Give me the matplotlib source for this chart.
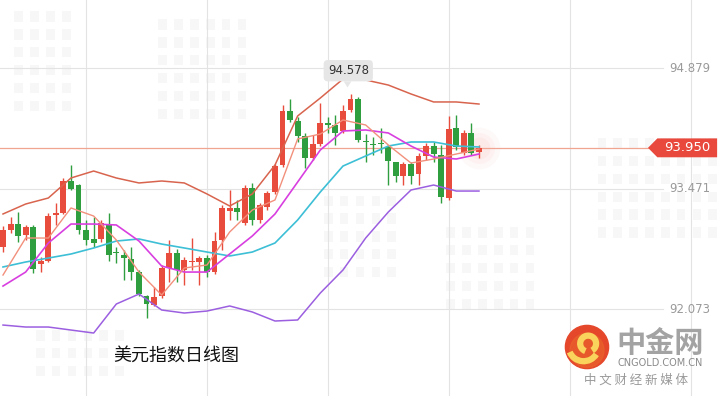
import numpy as np
import matplotlib.pyplot as plt
from matplotlib.patches import Circle, Polygon, Arc, Rectangle

plt.rcParams['font.family'] = ['Noto Sans CJK SC', 'DejaVu Sans']

# daily OHLC (64 sessions)
opens = [92.80, 92.99, 93.06, 92.93, 93.03, 92.60, 92.63, 93.17, 93.19, 93.56,
         93.52, 92.99, 92.89, 92.89, 93.06, 92.74, 92.70, 92.66, 92.50, 92.22,
         92.12, 92.23, 92.55, 92.73, 92.53, 92.62, 92.62, 92.67, 92.50, 92.88,
         93.22, 93.25, 93.07, 93.48, 93.11, 93.26, 93.44, 93.75, 94.38, 94.26,
         94.09, 93.83, 93.99, 94.24, 94.22, 94.15, 94.39, 94.52, 94.03, 93.99,
         94.00, 93.96, 93.79, 93.62, 93.76, 93.65, 93.85, 93.97, 93.87, 93.37,
         94.18, 93.89, 94.12, 93.90]
closes = [92.99, 93.06, 92.92, 93.03, 92.54, 92.63, 93.16, 93.19, 93.56, 93.47,
          92.99, 92.88, 92.84, 93.07, 92.70, 92.72, 92.67, 92.50, 92.25, 92.13,
          92.21, 92.55, 92.73, 92.53, 92.64, 92.63, 92.67, 92.50, 92.87, 93.25,
          93.25, 93.20, 93.48, 93.11, 93.28, 93.42, 93.74, 94.38, 94.27, 94.09,
          93.83, 93.99, 94.24, 94.22, 94.12, 94.38, 94.52, 94.04, 94.02, 93.98,
          93.99, 93.80, 93.62, 93.76, 93.62, 93.86, 93.97, 93.88, 93.38, 94.17,
          93.96, 94.12, 93.89, 93.95]
highs = [93.04, 93.15, 93.20, 93.05, 93.05, 92.68, 93.19, 93.31, 93.60, 93.75,
         93.53, 93.11, 93.15, 93.11, 93.19, 92.80, 92.76, 92.80, 92.53, 92.24,
         92.33, 92.59, 92.88, 92.77, 92.68, 92.90, 92.69, 92.70, 92.97, 93.28,
         93.46, 93.34, 93.52, 93.54, 93.31, 93.45, 93.76, 94.45, 94.52, 94.31,
         94.12, 94.10, 94.47, 94.31, 94.33, 94.45, 94.578, 94.54, 94.11, 94.08,
         94.18, 93.98, 93.79, 93.79, 93.79, 93.89, 94.01, 94.02, 93.98, 94.32,
         94.33, 94.16, 94.24, 93.98]
lows = [92.74, 92.96, 92.85, 92.88, 92.49, 92.50, 92.62, 93.05, 93.18, 93.46,
        92.95, 92.82, 92.80, 92.85, 92.63, 92.61, 92.41, 92.41, 92.22, 91.97,
        92.11, 92.20, 92.39, 92.39, 92.35, 92.53, 92.35, 92.45, 92.48, 92.76,
        93.11, 93.11, 93.05, 93.05, 93.08, 93.23, 93.41, 93.73, 94.25, 94.02,
        93.72, 93.81, 93.97, 94.12, 93.98, 94.12, 94.37, 94.02, 93.79, 93.87,
        93.89, 93.52, 93.55, 93.52, 93.53, 93.52, 93.81, 93.79, 93.31, 93.34,
        93.93, 93.87, 93.87, 93.83]

# indicator lines, read every 3rd session
line_idx = list(range(0, 64, 3))
boll_upper = [93.180, 93.296, 93.366, 93.599, 93.680, 93.599, 93.541, 93.564,
              93.541, 93.413, 93.273, 93.413, 93.750, 94.321, 94.530, 94.751,
              94.740, 94.681, 94.577, 94.484, 94.484, 94.460]
boll_mid = [92.563, 92.621, 92.667, 92.714, 92.784, 92.865, 92.889, 92.830,
            92.784, 92.737, 92.691, 92.737, 92.842, 93.110, 93.436, 93.738,
            93.855, 93.971, 94.018, 94.018, 93.971, 93.960]
boll_lower = [91.887, 91.864, 91.864, 91.829, 91.794, 92.132, 92.248, 92.062,
              92.027, 92.050, 92.109, 92.039, 91.934, 91.946, 92.260, 92.528,
              92.900, 93.203, 93.459, 93.517, 93.447, 93.447]
ma_fast = [92.469, 92.900, 92.900, 93.250, 93.156, 92.877, 92.504, 92.237,
           92.551, 92.586, 92.970, 93.226, 93.343, 94.053, 94.111, 94.274,
           94.216, 93.983, 93.773, 93.820, 93.878, 93.936]
ma_slow = [92.341, 92.504, 92.842, 93.063, 93.063, 93.052, 92.865, 92.574,
           92.504, 92.504, 92.714, 92.924, 93.180, 93.552, 93.925, 94.146,
           94.158, 94.123, 93.971, 93.843, 93.820, 93.878]

price_ticks = [94.879, 93.471, 92.073]
last_price = 93.950
peak_price = 94.578
title = '美元指数日线图'

RED = '#e84c3d'
GREEN = '#2e9e3e'

fig = plt.figure(figsize=(7.2, 3.96), dpi=100)
ax = fig.add_axes([0, 0, 1, 1])
ax.set_xlim(-0.397, 94.9)
ax.set_ylim(91.061, 95.671)
ax.axis('off')

# faint building-like watermark blocks
for bx, by, cols, rows in [(0.02, 0.72, 4, 6), (0.22, 0.70, 6, 6), (0.45, 0.30, 5, 5),
                           (0.83, 0.40, 8, 6), (0.62, 0.22, 6, 5), (0.05, 0.05, 6, 3)]:
    for c in range(cols):
        for r in range(rows):
            ax.add_patch(Rectangle((bx + c * 0.022, by + r * 0.045), 0.012, 0.026,
                                   transform=ax.transAxes, color='#f7f7f7', lw=0, zorder=0))

# grid
for gi in range(11, 95, 16):
    ax.axvline(gi, color='#e3e3e3', lw=0.8, zorder=1)
for p in price_ticks:
    ax.axhline(p, xmax=0.921, color='#e3e3e3', lw=0.8, zorder=1)
    ax.text(0.986, p, f'{p:.3f}', transform=ax.get_yaxis_transform(), ha='right',
            va='center', fontsize=8.5, color='#9a9a9a', family='DejaVu Sans')

# last-price line and tag
ax.axhline(last_price, xmax=0.9, color='#f0a592', lw=0.9, zorder=2)
tr = ax.get_yaxis_transform()
h = 0.11
ax.add_patch(Polygon([(0.900, last_price), (0.913, last_price + h), (0.996, last_price + h),
                      (0.996, last_price - h), (0.913, last_price - h)],
                     closed=True, transform=tr, color='#e8493c', lw=0, zorder=5))
ax.text(0.955, last_price, f'{last_price:.3f}', transform=tr, ha='center', va='center',
        fontsize=9.5, color='white', family='DejaVu Sans', zorder=6)

# candles
x = np.arange(len(opens))
o = np.array(opens); c = np.array(closes)
colors = [RED if cc >= oo else GREEN for oo, cc in zip(o, c)]
ax.vlines(x, lows, highs, colors=colors, lw=1.0, zorder=3)
body = np.maximum(np.abs(c - o), 0.012)
ax.bar(x, body, bottom=np.minimum(o, c), width=0.78, color=colors, lw=0, zorder=4)

# indicator lines
ax.plot(line_idx, boll_upper, color='#d8644e', lw=1.1, zorder=5)
ax.plot(line_idx, boll_mid, color='#3dbfd6', lw=1.2, zorder=5)
ax.plot(line_idx, boll_lower, color='#9b5fe0', lw=1.1, zorder=5)
ax.plot(line_idx, ma_slow, color='#d83fe0', lw=1.2, zorder=5)
ax.plot(line_idx, ma_fast, color='#f2907c', lw=1.0, zorder=5)

# glow on the latest candle
for s, a in [(900, 0.06), (500, 0.08), (250, 0.10)]:
    ax.scatter([x[-1]], [last_price], s=s, color='#f5a79c', alpha=a, lw=0, zorder=2)

# peak callout
pk = int(np.argmax(highs))
ax.text(pk - 0.3, peak_price + 0.27, f'{peak_price:.3f}', ha='center', va='center',
        fontsize=8.5, color='#333333', family='DejaVu Sans', zorder=7,
        bbox=dict(boxstyle='round,pad=0.35', fc='#e6e6e6', ec='none'))
ax.add_patch(Polygon([(pk - 0.9, peak_price + 0.145), (pk + 0.1, peak_price + 0.145),
                      (pk - 0.4, peak_price + 0.075)], closed=True, color='#e6e6e6',
                     lw=0, zorder=7))

# title
ax.text(0.157, 0.103, title, transform=ax.transAxes, ha='left', va='center',
        fontsize=13, color='#111111')

# logo
lax = fig.add_axes([(587 - 25) / 720, 1 - (347 + 25) / 396, 50 / 720, 50 / 396])
lax.set_xlim(-1.1, 1.1); lax.set_ylim(-1.1, 1.1); lax.axis('off')
lax.add_patch(Circle((0, 0), 0.95, color='#e5472b'))
lax.add_patch(Circle((0, -0.15), 0.75, color='#ea6a2a', alpha=0.5))
lax.add_patch(Arc((0.05, 0.15), 0.7, 0.7, theta1=-60, theta2=250, lw=4.5, color='#f9d35c'))
lax.add_patch(Arc((-0.15, 0.0), 1.3, 1.25, theta1=200, theta2=330, lw=4.5, color='#f9d35c'))

ax.text(0.917, 0.135, '中金网', transform=ax.transAxes, ha='center', va='center',
        fontsize=21, fontweight='bold', color='#a3a3a3')
ax.text(0.917, 0.083, 'CNGOLD.COM.CN', transform=ax.transAxes, ha='center', va='center',
        fontsize=7, color='#8a8a8a', family='DejaVu Sans')
ax.text(0.883, 0.040, '中 文 财 经 新 媒 体', transform=ax.transAxes, ha='center',
        va='center', fontsize=9, color='#9a9a9a')

fig.savefig('out.png', dpi=100)
